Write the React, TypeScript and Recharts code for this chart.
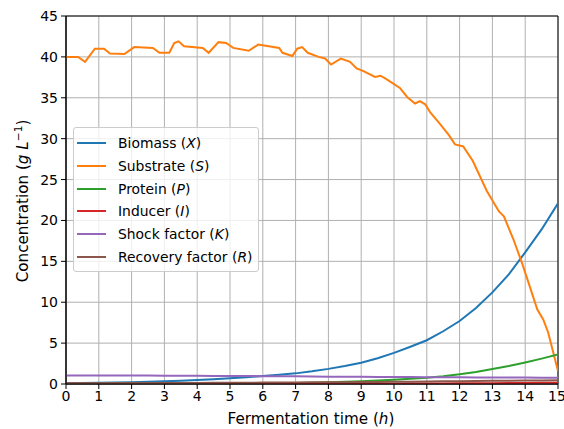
import {
  CartesianGrid,
  Legend,
  Line,
  LineChart,
  ReferenceArea,
  XAxis,
  YAxis,
} from "recharts"

const hours = [
  0, 0.5, 1, 1.5, 2, 2.5, 3, 3.5, 4, 4.5, 5, 5.5, 6, 6.5, 7, 7.5, 8, 8.5, 9,
  9.5, 10, 10.5, 11, 11.5, 12, 12.5, 13, 13.5, 14, 14.5, 15,
]
const biomass = [
  0.1, 0.12, 0.15, 0.18, 0.22, 0.27, 0.33, 0.4, 0.48, 0.58, 0.7, 0.82, 0.97,
  1.12, 1.3, 1.55, 1.85, 2.2, 2.6, 3.15, 3.8, 4.55, 5.35, 6.45, 7.7, 9.3, 11.2,
  13.4, 16.1, 18.9, 22.1,
]
const protein = [
  0.02, 0.02, 0.02, 0.03, 0.03, 0.03, 0.04, 0.04, 0.05, 0.05, 0.06, 0.07, 0.08,
  0.1, 0.12, 0.15, 0.2, 0.26, 0.34, 0.43, 0.53, 0.64, 0.77, 0.95, 1.18, 1.48,
  1.83, 2.2, 2.63, 3.1, 3.6,
]
const inducer = [
  0.02, 0.02, 0.02, 0.02, 0.02, 0.02, 0.02, 0.02, 0.02, 0.02, 0.02, 0.02, 0.02,
  0.02, 0.02, 0.02, 0.03, 0.03, 0.03, 0.04, 0.04, 0.05, 0.06, 0.07, 0.08, 0.09,
  0.1, 0.11, 0.13, 0.14, 0.16,
]
const shock = [
  1.05, 1.05, 1.05, 1.04, 1.04, 1.03, 1.02, 1.01, 1.0, 0.99, 0.98, 0.97, 0.96,
  0.95, 0.94, 0.92, 0.9, 0.89, 0.88, 0.87, 0.86, 0.85, 0.84, 0.83, 0.82, 0.81,
  0.8, 0.79, 0.78, 0.77, 0.77,
]
const recovery = [
  0.1, 0.1, 0.1, 0.11, 0.11, 0.12, 0.12, 0.13, 0.13, 0.14, 0.15, 0.16, 0.17,
  0.18, 0.19, 0.2, 0.21, 0.22, 0.24, 0.25, 0.27, 0.29, 0.31, 0.33, 0.35, 0.37,
  0.39, 0.41, 0.42, 0.44, 0.45,
]

const substrateHours = [
  0, 0.37, 0.58, 0.88, 1.16, 1.34, 1.78, 2.08, 2.65, 2.85, 3.15, 3.3, 3.43, 3.6,
  4.17, 4.35, 4.65, 4.88, 5.1, 5.57, 5.86, 6.5, 6.6, 6.9, 7.05, 7.2, 7.37, 7.7,
  7.9, 8.08, 8.38, 8.66, 8.86, 9.07, 9.42, 9.59, 9.78, 10.18, 10.4, 10.64,
  10.79, 10.95, 11.1, 11.4, 11.68, 11.86, 12.11, 12.4, 12.83, 13.2, 13.35,
  13.64, 13.92, 14.37, 14.55, 14.7, 15,
]
const substrate = [
  40, 40, 39.4, 41.0, 41.0, 40.4, 40.35, 41.2, 41.1, 40.5, 40.5, 41.7, 41.9,
  41.3, 41.1, 40.5, 41.8, 41.7, 41.1, 40.75, 41.5, 41.1, 40.5, 40.1, 41.0, 41.2,
  40.5, 40.0, 39.8, 39.07, 39.8, 39.4, 38.6, 38.25, 37.55, 37.7, 37.26, 36.2,
  35.1, 34.3, 34.6, 34.2, 33.25, 31.8, 30.4, 29.3, 29.05, 27.3, 23.6, 21.1,
  20.5, 17.7, 14.6, 9.1, 7.9, 6.3, 1.6,
]

const xTicks = [0, 1, 2, 3, 4, 5, 6, 7, 8, 9, 10, 11, 12, 13, 14, 15]
const yTicks = [0, 5, 10, 15, 20, 25, 30, 35, 40, 45]

const FONT = "'DejaVu Sans', sans-serif"

const legendItems = [
  { name: "Biomass", sym: "X", color: "#1f77b4" },
  { name: "Substrate", sym: "S", color: "#ff7f0e" },
  { name: "Protein", sym: "P", color: "#2ca02c" },
  { name: "Inducer", sym: "I", color: "#d62728" },
  { name: "Shock factor", sym: "K", color: "#9467bd" },
  { name: "Recovery factor", sym: "R", color: "#8c564b" },
]

const rows = hours.map((t, i) => ({
  t,
  X: biomass[i],
  P: protein[i],
  I: inducer[i],
  K: shock[i],
  R: recovery[i],
}))
const substrateRows = substrateHours.map((t, i) => ({ t, S: substrate[i] }))

const FancyLegend = () => (
  <div
    style={{
      border: "1px solid #cccccc",
      borderRadius: 3,
      background: "rgba(255,255,255,0.8)",
      padding: "4px 6px 3px 3px",
      fontFamily: FONT,
      fontSize: 13.9,
      color: "#000",
      whiteSpace: "nowrap",
      width: "max-content",
    }}
  >
    {legendItems.map((it) => (
      <div
        key={it.sym}
        style={{ display: "flex", alignItems: "center", height: 22.7 }}
      >
        <span
          style={{
            display: "inline-block",
            width: 29,
            height: 2,
            background: it.color,
            marginRight: 12,
          }}
        />
        <span>
          {it.name} (<i>{it.sym}</i>)
        </span>
      </div>
    ))}
  </div>
)

const YLabel = () => (
  <text
    x={0}
    y={0}
    transform="translate(28,201) rotate(-90)"
    textAnchor="middle"
    fontFamily={FONT}
    fontSize={15.2}
    fill="#000"
  >
    Concentration (<tspan fontStyle="italic">g</tspan>{" "}
    <tspan fontStyle="italic">L</tspan>
    <tspan dy={-6} fontSize={10.6}>
      −1
    </tspan>
    <tspan dy={6}>)</tspan>
  </text>
)

export default function App() {
  return (
    <div style={{ position: "absolute", left: 0, top: 0 }}>
      <LineChart
        width={564}
        height={429}
        margin={{ top: 16, right: 6, bottom: 0, left: 0 }}
        style={{ background: "#fff" }}
      >
        <CartesianGrid stroke="#b0b0b0" strokeWidth={1} />
        <XAxis
          dataKey="t"
          type="number"
          domain={[0, 15]}
          ticks={xTicks}
          allowDataOverflow
          height={45}
          stroke="#000"
          tickSize={5}
          tickMargin={2}
          tick={{ fill: "#000", fontFamily: FONT, fontSize: 14 }}
          label={{
            value: "Fermentation time (h)",
            content: () => (
              <text
                x={311}
                y={424}
                textAnchor="middle"
                fontFamily={FONT}
                fontSize={15.2}
                fill="#000"
              >
                Fermentation time (<tspan fontStyle="italic">h</tspan>)
              </text>
            ),
          }}
        />
        <YAxis
          type="number"
          domain={[0, 45]}
          ticks={yTicks}
          allowDataOverflow
          width={66}
          stroke="#000"
          tickSize={5}
          tickMargin={3}
          tick={{ fill: "#000", fontFamily: FONT, fontSize: 14 }}
          label={{ value: "Concentration", content: () => <YLabel /> }}
        />
        <Line
          data={rows}
          dataKey="X"
          stroke="#1f77b4"
          strokeWidth={2}
          dot={false}
          isAnimationActive={false}
        />
        <Line
          data={substrateRows}
          dataKey="S"
          stroke="#ff7f0e"
          strokeWidth={2}
          dot={false}
          isAnimationActive={false}
        />
        <Line
          data={rows}
          dataKey="P"
          stroke="#2ca02c"
          strokeWidth={2}
          dot={false}
          isAnimationActive={false}
        />
        <Line
          data={rows}
          dataKey="I"
          stroke="#d62728"
          strokeWidth={2}
          dot={false}
          isAnimationActive={false}
        />
        <Line
          data={rows}
          dataKey="K"
          stroke="#9467bd"
          strokeWidth={2}
          dot={false}
          isAnimationActive={false}
        />
        <Line
          data={rows}
          dataKey="R"
          stroke="#8c564b"
          strokeWidth={2}
          dot={false}
          isAnimationActive={false}
        />
        <ReferenceArea
          x1={0}
          x2={15}
          y1={0}
          y2={45}
          fill="none"
          stroke="#000"
          strokeWidth={1}
          ifOverflow="visible"
        />
        <Legend
          layout="vertical"
          align="center"
          verticalAlign="middle"
          content={() => <FancyLegend />}
          wrapperStyle={{ left: 73, top: 127, width: "auto" }}
        />
      </LineChart>
    </div>
  )
}
